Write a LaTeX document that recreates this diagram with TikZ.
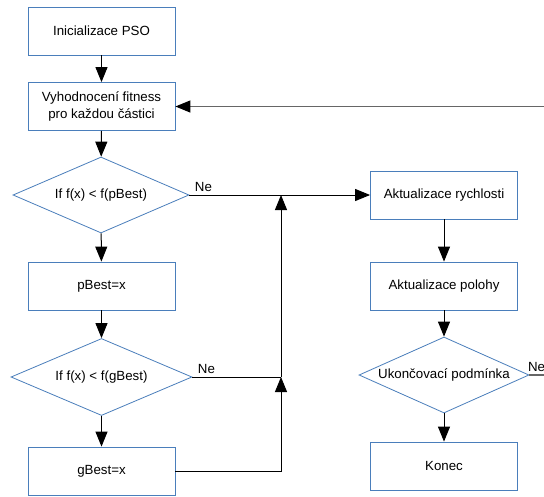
\documentclass[tikz,border=0pt]{standalone}
\usepackage{fontspec}
\setmainfont{Liberation Sans}
\usetikzlibrary{shapes.geometric,arrows.meta}
\definecolor{nodeblue}{HTML}{4A7EBB}
\tikzset{
  procbox/.style={rectangle,draw=nodeblue,fill=white,line width=0.8pt,minimum width=147pt,minimum height=48pt,inner sep=2pt,align=center},
  decision/.style={diamond,draw=nodeblue,fill=white,line width=0.8pt,inner sep=0pt,aspect=2.32,minimum width=176pt,minimum height=76pt},
  flow/.style={line width=1pt,-{Triangle[length=15pt,width=12pt]}},
  plain/.style={line width=1pt},
  loopline/.style={line width=1.2pt,draw=black!60},
  nelabel/.style={anchor=south west,inner sep=0pt,xshift=5pt,yshift=3pt}
}

\begin{document}
\begin{tikzpicture}[x=1pt,y=-1pt,every node/.style={font=\fontsize{13.3}{16.5}\selectfont}]
  \useasboundingbox (0,0) rectangle (544,496);

  % left column
  \node[procbox] (init) at (101.5,31) {Inicializace PSO};
  \node[procbox] (eval) at (101.5,106.5) {Vyhodnocení fitness\\pro každou částici};
  \node[decision] (ifp) at (101,195) {If f(x) < f(pBest)};
  \node[procbox] (pbest) at (101.5,286) {pBest=x};
  \node[decision,aspect=2.35,minimum width=181pt,minimum height=77pt] (ifg) at (101.5,377) {If f(x) < f(gBest)};
  \node[procbox] (gbest) at (101.5,471) {gBest=x};

  % right column
  \node[procbox] (vel) at (444,195) {Aktualizace rychlosti};
  \node[procbox] (pos) at (444,286) {Aktualizace polohy};
  \node[decision,aspect=2.24,minimum width=170pt] (stop) at (444,375) {Ukončovací podmínka};
  \node[procbox] (konec) at (444,466) {Konec};

  \coordinate (j1) at (281,195);
  \coordinate (j2) at (281,377);
  \coordinate (outr) at (544,106.5);
  \coordinate (outn) at (544,375);

  \draw[flow] (init) -- (eval);
  \draw[flow] (eval) -- (ifp);
  \draw[flow] (ifp) -- (pbest);
  \draw[flow] (pbest) -- (ifg);
  \draw[flow] (ifg) -- (gbest);
  \draw[flow] (ifp.east) -- node[at start,nelabel] {Ne} (vel.west);
  \draw[plain] (ifg.east) -- node[at start,nelabel] {Ne} (j2);
  \draw[flow] (gbest.east) -| (j2);
  \draw[flow] (j2) -- (j1);

  \draw[flow] (vel) -- (pos);
  \draw[flow] (pos) -- (stop);
  \draw[flow] (stop) -- (konec);
  \draw[loopline] (stop.east) -- node[at start,nelabel,xshift=-7pt] {Ne} (outn);
  \draw[loopline,-{Triangle[length=15pt,width=12pt,color=black]}] (outr) -- (eval.east);
\end{tikzpicture}
\end{document}
